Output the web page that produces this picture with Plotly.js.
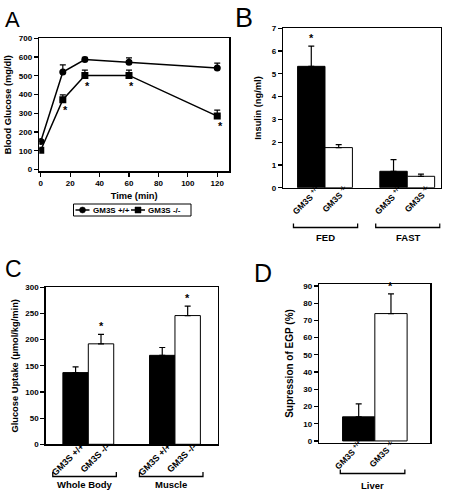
<!DOCTYPE html>
<html><head><meta charset="utf-8">
<script src="https://cdn.plot.ly/plotly-3.0.1.min.js"></script>
<style>html,body{margin:0;padding:0;background:#fff}#chart{width:450px;height:493px}</style>
</head><body><div id="chart"></div>
<script>
// ---- Panel A: glucose tolerance ----
const timeMin = [0, 15, 30, 60, 120];
const glucoseWT = [150, 520, 587, 572, 542];
const glucoseWTErr = [8, 38, 12, 24, 26];
const glucoseKO = [103, 372, 502, 502, 285];
const glucoseKOErr = [8, 26, 28, 28, 32];
const glucoseSig = [false, true, true, true, true];
const seriesNames = ['GM3S +/+', 'GM3S -/-'];
const xTicksA = [0, 20, 40, 60, 80, 100, 120];

// ---- Panel B: insulin ----
const genotypeSup = ['GM3S <sup>+/+</sup>', 'GM3S <sup>-/-</sup>'];
const genotypePlain = ['GM3S +/+', 'GM3S -/-'];
const insulinGroups = ['FED', 'FAST'];
const insulinWT = [5.33, 0.72];
const insulinWTErr = [0.89, 0.51];
const insulinKO = [1.76, 0.50];
const insulinKOErr = [0.13, 0.10];
const insulinSigWT = [true, false];

// ---- Panel C: glucose uptake ----
const uptakeGroups = ['Whole Body', 'Muscle'];
const uptakeWT = [137, 170];
const uptakeWTErr = [11, 15];
const uptakeKO = [192, 246];
const uptakeKOErr = [18, 18];
const uptakeSigKO = [true, true];

// ---- Panel D: EGP suppression ----
const egpGroups = ['Liver'];
const egpWT = [14];
const egpWTErr = [7.5];
const egpKO = [74];
const egpKOErr = [11.5];
const egpSigKO = [true];

const FONT = 'Liberation Sans, Arial, sans-serif';
const tickFont = {family: FONT, size: 8, color: '#000', weight: 'bold'};
const titleFont = {family: FONT, size: 9.3, color: '#000', weight: 'bold'};
const W = 450, H = 493;
const px = v => v / W, py = v => 1 - v / H;

function axis(domain, range, extra) {
  return Object.assign({
    domain: domain, range: range, showline: true, linecolor: '#000', linewidth: 1.5,
    mirror: true, ticks: 'outside', ticklen: 4, tickwidth: 1.2, tickcolor: '#000',
    zeroline: false, showgrid: false, tickfont: tickFont, fixedrange: true
  }, extra || {});
}

const traces = [];
const annotations = [];
const shapes = [];

// Panel A traces
traces.push({
  type: 'scatter', mode: 'lines+markers', name: seriesNames[0], x: timeMin, y: glucoseWT,
  xaxis: 'x', yaxis: 'y', line: {color: '#000', width: 1.5},
  marker: {symbol: 'circle', size: 7, color: '#000'},
  error_y: {type: 'data', array: glucoseWTErr, arrayminus: glucoseWTErr.map(() => 0), symmetric: false, color: '#000', thickness: 1.2, width: 3}
});
traces.push({
  type: 'scatter', mode: 'lines+markers', name: seriesNames[1], x: timeMin, y: glucoseKO,
  xaxis: 'x', yaxis: 'y', line: {color: '#000', width: 1.5},
  marker: {symbol: 'square', size: 7, color: '#000'},
  error_y: {type: 'data', array: glucoseKOErr, arrayminus: glucoseKOErr.map(() => 0), symmetric: false, color: '#000', thickness: 1.2, width: 3}
});
timeMin.forEach((t, i) => {
  if (glucoseSig[i]) annotations.push({xref: 'x', yref: 'y', x: t + 2, y: glucoseKO[i] - 55,
    text: '*', showarrow: false, font: {family: FONT, size: 11, color: '#000', weight: 'bold'}});
});

// Legend for panel A (compact boxed key)
shapes.push({type: 'rect', xref: 'paper', yref: 'paper', x0: px(73.5), x1: px(191), y0: py(204), y1: py(216),
  line: {color: '#000', width: 1}, fillcolor: '#fff'});
[[75.5, 89.5, 'circle', 90.5], [131, 145, 'rect', 146]].forEach(([a, b, sym, tx], i) => {
  const yc = 210, cx = (a + b) / 2;
  shapes.push({type: 'line', xref: 'paper', yref: 'paper', x0: px(a), x1: px(b), y0: py(yc), y1: py(yc), line: {color: '#000', width: 1.5}});
  shapes.push({type: sym, xref: 'paper', yref: 'paper', x0: px(cx - 3), x1: px(cx + 3), y0: py(yc - 3), y1: py(yc + 3),
    fillcolor: '#000', line: {color: '#000', width: 0.5}});
  annotations.push({xref: 'paper', yref: 'paper', x: px(tx), y: py(yc), xanchor: 'left', yanchor: 'middle',
    text: seriesNames[i], showarrow: false, font: {family: FONT, size: 8, color: '#000', weight: 'bold'}});
});

// helper for grouped bar panels
function barPanel(ax, groups, wt, wtErr, ko, koErr, bw, labels, sigWT, sigKO, lblShift) {
  const centers = groups.map((g, i) => i * 3 + 1.5);
  const xs = 'x' + ax, ys = 'y' + ax;
  traces.push({type: 'bar', name: seriesNames[0], x: centers.map(c => c - bw / 2), y: wt, width: bw, xaxis: xs, yaxis: ys,
    marker: {color: '#000', line: {color: '#000', width: 1}}, showlegend: false,
    error_y: {type: 'data', array: wtErr, arrayminus: wtErr.map(() => 0), symmetric: false, color: '#000', thickness: 1.2, width: 3}});
  traces.push({type: 'bar', name: seriesNames[1], x: centers.map(c => c + bw / 2), y: ko, width: bw, xaxis: xs, yaxis: ys,
    marker: {color: '#fff', line: {color: '#000', width: 1}}, showlegend: false,
    error_y: {type: 'data', array: koErr, arrayminus: koErr.map(() => 0), symmetric: false, color: '#000', thickness: 1.2, width: 3}});
  const tv = [], tt = [];
  centers.forEach(c => { tv.push(c - bw / 2 + lblShift, c + bw / 2 + lblShift); tt.push(labels[0], labels[1]); });
  groups.forEach((g, i) => {
    if (sigWT && sigWT[i]) annotations.push({xref: xs, yref: ys, x: centers[i] - bw / 2, y: wt[i] + wtErr[i],
      yanchor: 'bottom', text: '*', showarrow: false, font: {family: FONT, size: 11, color: '#000', weight: 'bold'}});
    if (sigKO && sigKO[i]) annotations.push({xref: xs, yref: ys, x: centers[i] + bw / 2, y: ko[i] + koErr[i],
      yanchor: 'bottom', text: '*', showarrow: false, font: {family: FONT, size: 11, color: '#000', weight: 'bold'}});
  });
  return {centers, tv, tt, xs};
}

function bracket(xs, centers, groups, half, shift, yLine, yEnd, yLabel) {
  centers.forEach((c, i) => {
    const a = c - half + shift, b = c + half + shift;
    shapes.push({type: 'path', xref: xs, yref: 'paper',
      path: `M ${a},${py(yEnd)} L ${a},${py(yLine)} L ${b},${py(yLine)} L ${b},${py(yEnd)}`,
      line: {color: '#000', width: 1.3}});
    annotations.push({xref: xs, yref: 'paper', x: c + shift, y: py(yLabel), xanchor: 'center', yanchor: 'middle',
      text: groups[i], showarrow: false, font: {family: FONT, size: 9.5, color: '#000', weight: 'bold'}});
  });
}

const pB = barPanel('2', insulinGroups, insulinWT, insulinWTErr, insulinKO, insulinKOErr, 1, genotypeSup, insulinSigWT, null, 0.25);
bracket('x2', pB.centers, insulinGroups, 1.17, 0.02, 227.5, 223.5, 237);
const pC = barPanel('3', uptakeGroups, uptakeWT, uptakeWTErr, uptakeKO, uptakeKOErr, 0.88, genotypePlain, null, uptakeSigKO, 0.2);
bracket('x3', pC.centers, uptakeGroups, 1.1, -0.13, 476.5, 472, 484);
const pD = barPanel('4', egpGroups, egpWT, egpWTErr, egpKO, egpKOErr, 1, genotypeSup, null, egpSigKO, 0.05);
bracket('x4', pD.centers, egpGroups, 1.0, -0.07, 473.5, 469.5, 485);

// panel letters
[['A', 3, 5, 22], ['B', 233, 1, 27], ['C', 3, 254, 23], ['D', 252, 257, 25]].forEach(([t, x, y, s]) => {
  annotations.push({xref: 'paper', yref: 'paper', x: px(x), y: py(y), xanchor: 'left', yanchor: 'top',
    text: t, showarrow: false, font: {family: FONT, size: s, color: '#000'}});
});

const barX = {ticks: '', tickangle: -45, ticklabelstandoff: -8};

const layout = {
  width: W, height: H, margin: {l: 0, r: 0, t: 0, b: 0},
  paper_bgcolor: '#fff', plot_bgcolor: '#fff', bargap: 0,
  showlegend: false,
  xaxis: axis([0.0873, 0.5089], [-1, 128], {anchor: 'y', tickvals: xTicksA, title: {text: 'Time (min)', font: titleFont, standoff: 5}}),
  yaxis: axis([0.6531, 0.9223], [-8, 700], {anchor: 'x', dtick: 100, title: {text: 'Blood Glucose (mg/dl)', font: titleFont, standoff: 5}}),
  xaxis2: axis([0.6296, 0.9793], [-0.02, 5.72], Object.assign({anchor: 'y2', tickvals: pB.tv, ticktext: pB.tt, tickfont: Object.assign({}, tickFont, {size: 8.5})}, barX)),
  yaxis2: axis([0.6193, 0.9426], [0, 7], {anchor: 'x2', dtick: 1, title: {text: 'Insulin (ng/ml)', font: titleFont, standoff: 8}}),
  xaxis3: axis([0.1016, 0.4838], [0.026, 5.98], Object.assign({anchor: 'y3', tickvals: pC.tv, ticktext: pC.tt, tickfont: Object.assign({}, tickFont, {size: 9})}, barX)),
  yaxis3: axis([0.0988, 0.4172], [0, 300], {anchor: 'x3', dtick: 50, title: {text: 'Glucose Uptake (\u00b5mol/kg/min)', font: titleFont, standoff: 5}}),
  xaxis4: axis([0.7096, 0.9556], [-0.22, 3.21], Object.assign({anchor: 'y4', tickvals: pD.tv, ticktext: pD.tt, tickfont: Object.assign({}, tickFont, {size: 8.5})}, barX)),
  yaxis4: axis([0.1021, 0.4233], [-1, 91], {anchor: 'x4', dtick: 10, title: {text: 'Supression of EGP (%)', font: Object.assign({}, titleFont, {size: 10}), standoff: 8}}),
  annotations: annotations, shapes: shapes
};

Plotly.newPlot('chart', traces, layout, {displayModeBar: false, staticPlot: true});
</script></body></html>
